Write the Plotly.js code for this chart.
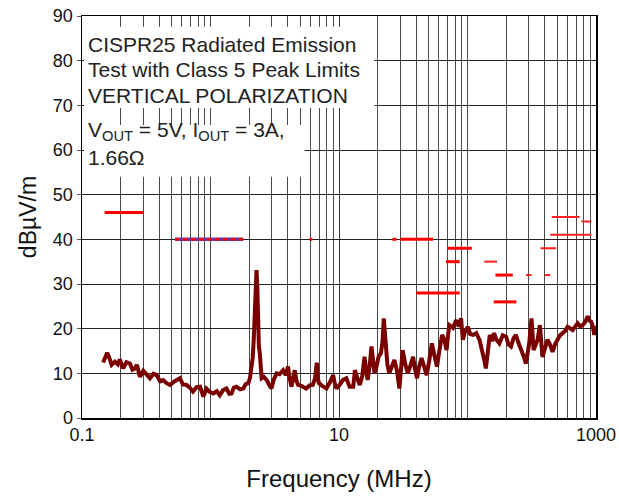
<!DOCTYPE html>
<html>
<head>
<meta charset="utf-8">
<script src="https://cdn.plot.ly/plotly-3.0.1.min.js"></script>
<style>html,body{margin:0;padding:0;background:#fff;}#chart{width:619px;height:501px;}</style>
</head>
<body>
<div id="chart"></div>
<script>
// ---- Measured spectrum (MHz, dBµV/m) ----
const freqMHz = [0.146,0.157,0.163,0.170,0.180,0.190,0.197,0.209,0.222,0.236,0.247,0.258,0.268,0.282,0.300,0.318,0.338,0.360,0.381,0.405,0.429,0.455,0.483,0.53,0.578,0.61,0.651,0.69,0.73,0.78,0.83,0.88,0.93,0.99,1.05,1.12,1.18,1.25,1.33,1.40,1.46,1.52,1.59,1.70,1.80,1.88,1.97,2.03,2.08,2.13,2.17,2.21,2.25,2.28,2.31,2.34,2.38,2.42,2.46,2.50,2.60,2.74,2.85,2.98,3.1,3.27,3.45,3.67,3.85,4.01,4.1,4.26,4.4,4.52,4.65,4.80,5.1,5.54,5.9,6.25,6.5,6.72,6.85,6.97,7.4,7.98,8.5,9.0,9.3,9.56,10.1,10.7,11.4,12.1,12.9,13.3,14.0,14.5,15.2,15.8,16.2,16.7,17.3,17.9,18.4,18.9,19.6,20.3,21.2,21.8,22.3,22.7,23.0,23.8,24.6,25.8,27.0,28.3,29.5,30.4,31.3,32.8,34.3,36.0,37.7,39.0,40.5,42.0,43.9,46.0,48.1,50.5,52.8,55.3,57.9,60.7,63.5,66.0,68.8,70.5,72.3,77,81.8,85.5,89.1,92.0,96,100.8,105,110.9,117,124,131,135,139,144,149,155,161,168,177,188,200,208,218,228,238,248,260,272,285,293,302,315,327,340,351,366,383,400,419,438,459,480,502,525,550,575,601,630,658,690,719,752,787,825,861,890,915,945,970,990,1000];
const levelDb = [12.4,14.6,13.5,11.9,12.6,12.0,13.1,11.1,12.5,12.2,10.8,11.1,11.9,9.2,10.6,9.8,8.9,9.9,9.6,8.2,8.5,7.8,7.4,8.3,8.9,7.5,7.4,6.8,5.9,6.9,7.0,4.8,6.6,5.8,5.5,6.0,5.1,6.2,6.6,5.4,5.5,6.8,7.0,6.4,6.6,7.6,7.8,9.0,10.7,13.5,17.5,24,32.8,33.1,30,18.2,16,14.5,11,8.9,9.2,8.5,7.5,6.6,8.5,10.0,9.8,10.7,9.6,11.5,9.5,7.0,8.8,10.7,8.5,7.4,7.2,6.6,7.3,7.4,8.8,12.4,9.0,7.8,7.2,6.6,8.0,9.6,7.6,6.6,7.4,8.5,8.9,7.0,7.0,10.7,8.6,7.4,9.5,13.7,11,8.5,11.5,16.0,13,10.0,11.5,13.7,14.5,17,22.3,19,16.0,12,10.0,11.5,13.0,10.5,6.6,11,15.2,12,10.0,11.8,13.7,11,8.9,11.5,13.4,11.5,9.6,13,16.7,14,11.5,15.5,18.6,17.5,15.2,18.5,20.8,20.2,21.9,20.5,22.3,17.5,19.5,20.4,18.8,18.6,19.0,17.5,15,13,11.1,15.5,18.6,17.2,19.0,17.5,16.7,18.5,18.2,16.5,16.0,17.8,18.6,17.0,15.6,14,12.2,14.5,16.7,22.3,15.2,16.5,17.5,20.8,13.7,15.5,17.5,16.5,14.8,16.5,17.5,18.5,19.0,19.5,20.4,20.0,19.7,20.5,21.2,20.5,20.8,21.5,22.8,21.8,21.6,20.5,18.6,20.5,20.2];

// ---- CISPR25 Class 5 limit segments (start MHz, end MHz, level dBµV/m) ----
const limitStart = [0.15, 5.9, 26, 30, 70, 68, 40, 165, 160];
const limitEnd   = [0.3,  6.2, 28, 54, 108, 87, 87, 225, 240];
const limitLevel = [46,   40,  40, 40, 38,  35, 28, 32,  26];
// thinner limit segments
const thinStart = [135, 285, 400, 370, 452, 770, 440];
const thinEnd   = [170, 315, 440, 490, 745, 920, 920];
const thinLevel = [35,  32,  32,  38,  45,  44,  41];
// medium-wave band (two overlapping limits)
const mwStart = [0.53];
const mwEnd = [1.8];
const mwLevel = [40];

// ---- axis ticks ----
const xTickVals = [0.1, 10, 1000];
const xTickText = ['0.1', '10', '1000'];
const decadeStarts = [0.1, 1, 10, 100];
const digitMultipliers = [1,2,3,4,5,6,7,8,9];
const yTicks = [0,10,20,30,40,50,60,70,80,90];

const xMinorVals = [];
decadeStarts.forEach(d => digitMultipliers.forEach(m => {
  const v = +(d*m).toPrecision(3);
  if (xTickVals.indexOf(v) < 0) xMinorVals.push(v);
}));

function segs(s, e, l) {
  const x = [], y = [];
  s.forEach((a, i) => { x.push(a, e[i], null); y.push(l[i], l[i], null); });
  return {x, y};
}
const main = segs(limitStart, limitEnd, limitLevel);
const thin = segs(thinStart, thinEnd, thinLevel);
const mw = segs(mwStart, mwEnd, mwLevel);

const font = 'Liberation Sans, Arial, sans-serif';
const traces = [
  {x: freqMHz, y: levelDb, type: 'scatter', mode: 'lines', line: {color: '#7a0000', width: 4}, hoverinfo: 'skip'},
  {x: main.x, y: main.y, type: 'scatter', mode: 'lines', line: {color: '#ff0000', width: 3}, connectgaps: false},
  {x: thin.x, y: thin.y, type: 'scatter', mode: 'lines', line: {color: '#ff2020', width: 2}, connectgaps: false},
  {x: mw.x, y: mw.y, type: 'scatter', mode: 'lines', line: {color: '#7030a0', width: 3.5}},
  {x: mw.x, y: mw.y, type: 'scatter', mode: 'lines', line: {color: '#ff0000', width: 2.5, dash: '4px,4px'}}
];

const annFont = {size: 21, color: '#222'};
const layout = {
  width: 619, height: 501,
  margin: {l: 82, r: 22.5, t: 16, b: 83},
  paper_bgcolor: '#fff', plot_bgcolor: '#fff',
  showlegend: false,
  font: {family: font, color: '#111'},
  xaxis: {
    type: 'log', range: [-1, 3],
    tickmode: 'array', tickvals: xTickVals, ticktext: xTickText,
    ticks: '', showgrid: true, gridcolor: '#3a3a3a', gridwidth: 1,
    minor: {tickmode: 'array', tickvals: xMinorVals, showgrid: true, gridcolor: '#4a4a4a', gridwidth: 1, ticks: ''},
    showline: true, linecolor: '#000', linewidth: 1.5, mirror: true,
    zeroline: false,
    tickfont: {size: 18, color: '#111'},
    title: {text: 'Frequency (MHz)', font: {size: 24, color: '#111'}, standoff: 26}
  },
  yaxis: {
    range: [0, 90], tickmode: 'array', tickvals: yTicks,
    ticks: 'outside', ticklen: 4, tickcolor: '#555',
    showgrid: true, gridcolor: '#222', gridwidth: 1,
    showline: true, linecolor: '#000', linewidth: 1.5, mirror: true,
    zeroline: false,
    tickfont: {size: 18, color: '#111'},
    title: {text: 'dBµV/m', font: {size: 23, color: '#111'}, standoff: 10}
  },
  shapes: [
    {type: 'rect', xref: 'paper', yref: 'paper', x0: 0.004, x1: 0.569, y0: 0.771, y1: 0.973, fillcolor: '#fff', line: {width: 0}, layer: 'above'},
    {type: 'rect', xref: 'paper', yref: 'paper', x0: 0.004, x1: 0.433, y0: 0.600, y1: 0.729, fillcolor: '#fff', line: {width: 0}, layer: 'above'}
  ],
  annotations: [
    {text: 'CISPR25 Radiated Emission', xref: 'paper', yref: 'paper', x: 0.008, y: (418-44)/402, xanchor: 'left', yanchor: 'middle', showarrow: false, font: annFont},
    {text: 'Test with Class 5 Peak Limits', xref: 'paper', yref: 'paper', x: 0.008, y: (418-69.5)/402, xanchor: 'left', yanchor: 'middle', showarrow: false, font: annFont},
    {text: 'VERTICAL POLARIZATION', xref: 'paper', yref: 'paper', x: 0.008, y: (418-95)/402, xanchor: 'left', yanchor: 'middle', showarrow: false, font: annFont},
    {text: 'V<sub>OUT</sub> = 5V, I<sub>OUT</sub> = 3A,', xref: 'paper', yref: 'paper', x: 0.008, y: (418-131)/402, xanchor: 'left', yanchor: 'middle', showarrow: false, font: annFont},
    {text: '1.66Ω', xref: 'paper', yref: 'paper', x: 0.008, y: (418-157)/402, xanchor: 'left', yanchor: 'middle', showarrow: false, font: annFont}
  ]
};

Plotly.newPlot('chart', traces, layout, {staticPlot: true, displayModeBar: false});
</script>
</body>
</html>
